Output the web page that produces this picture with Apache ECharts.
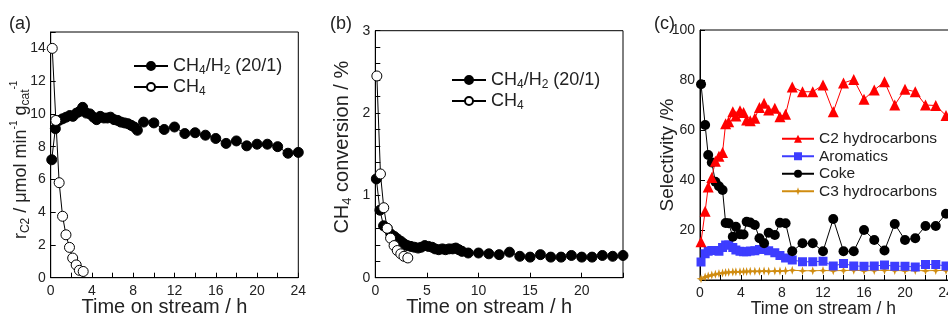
<!DOCTYPE html>
<html>
<head>
<meta charset="UTF-8">
<title>time on stream</title>
<script src="https://cdn.jsdelivr.net/npm/echarts@6/dist/echarts.min.js"></script>
<style>
    html, body { margin: 0; padding: 0; background: #fff; }
    #main { width: 948px; height: 317px; }
</style>
</head>
<body>
<div id="main"></div>
<script>
    // (a) + (b): CH4/H2 (20/1) run
    var tH2 = [0.1, 0.45, 0.8, 1.15, 1.5, 1.85, 2.15, 2.5, 2.8, 3.1, 3.45, 3.8, 4.15, 4.45, 4.8, 5.15, 5.5, 5.8, 6.15, 6.5, 6.8, 7.15, 7.5, 7.8, 8.1, 8.4,
        9, 10, 11, 12, 13, 14, 15, 16, 17, 18, 19, 20, 21, 22, 23, 24];
    var rateH2 = [7.2, 9.1, 9.6, 9.7, 9.8, 9.9, 9.85, 10.05, 10.15, 10.4, 10.05, 10.0, 9.8, 9.65, 9.85, 9.75, 9.75, 9.8, 9.65, 9.6, 9.5, 9.45, 9.4, 9.3, 9.2, 9.0,
        9.5, 9.45, 9.05, 9.2, 8.8, 8.85, 8.7, 8.5, 8.2, 8.35, 8.05, 8.15, 8.15, 8.0, 7.6, 7.65];
    var convH2 = [1.2, 0.82, 0.63, 0.6, 0.53, 0.5, 0.47, 0.44, 0.41, 0.39, 0.38, 0.37, 0.36, 0.37, 0.39, 0.38, 0.37, 0.35, 0.34, 0.35, 0.34, 0.35, 0.35, 0.36, 0.34, 0.32,
        0.3, 0.3, 0.29, 0.28, 0.31, 0.26, 0.25, 0.28, 0.25, 0.25, 0.27, 0.25, 0.25, 0.27, 0.26, 0.27];
    // pure CH4 run
    var tCH4 = [0.15, 0.5, 0.82, 1.15, 1.48, 1.82, 2.13, 2.47, 2.78, 3.15];
    var rateCH4 = [14.0, 9.6, 5.8, 3.75, 2.62, 1.85, 1.2, 0.78, 0.45, 0.38];
    var convCH4 = [2.45, 1.26, 0.85, 0.6, 0.48, 0.39, 0.33, 0.29, 0.26, 0.24];

    // (c) selectivity
    var tSel = [0.1, 0.5, 0.8, 1.15, 1.5, 1.85, 2.2, 2.5, 2.8, 3.2, 3.5, 3.9, 4.25, 4.55, 4.9, 5.35, 5.8, 6.25, 6.7, 7.3, 7.8, 8.35,
        9, 10, 11, 12, 13, 14, 15, 16, 17, 18, 19, 20, 21, 22, 23, 24];
    var selC2 = [15.3, 27.5, 37.2, 41, 47.5, 49.5, 51, 62.5, 63.3, 67.3, 65.6, 67.7, 67, 64, 63.7, 64.7, 69, 70.7, 68, 68.7, 65.3, 66.3,
        77.2, 75.3, 75.3, 78, 67.3, 78.8, 80.2, 72.3, 76, 79.3, 70, 76.3, 75.3, 70, 69.8, 65.8];
    var selArom = [7.2, 10.5, 11.5, 11.8, 11.8, 11.5, 13, 14, 14, 13, 12, 11.5, 11.3, 11.3, 11.6, 11.7, 12.2, 12.2, 11.7, 10.9, 9.8, 8.8,
        8, 7.3, 7.3, 7.5, 5.6, 6.6, 5.6, 5.5, 5.6, 6, 5.5, 5.5, 5.2, 6.2, 6.2, 5.6];
    var selCoke = [78.3, 62, 50, 47, 39.3, 37.5, 36, 22.8, 22.7, 17.3, 21.3, 18.3, 18.2, 23.3, 23, 22, 16.7, 14.7, 18.9, 18, 22.9, 22.7,
        11.5, 14.7, 14.7, 11.5, 24.4, 11.5, 11.5, 20, 16, 11.8, 22.4, 16, 16.7, 21.6, 21.6, 26.5];
    var selC3 = [0.5, 1.2, 1.6, 2.0, 2.3, 2.6, 2.8, 3.0, 3.1, 3.2, 3.3, 3.3, 3.4, 3.4, 3.5, 3.5, 3.5, 3.6, 3.5, 3.6, 3.6, 3.7,
        3.9, 3.7, 3.7, 3.8, 3.7, 3.8, 3.9, 3.7, 3.8, 3.9, 3.8, 3.7, 3.8, 3.7, 3.8, 3.8];

    function pts(xs, ys) {
        return xs.map(function (x, i) { return [x, ys[i]]; });
    }

    var FONT = 'Liberation Sans, Arial, sans-serif';
    var TXT = '#222';

    // legend names -> rich text
    var legendText = {
        aH2: '{n|CH}{s|4}{n|/H}{s|2}{n| (20/1)}',
        aCH4: '{n|CH}{s|4}',
        bH2: '{n|CH}{s|4}{n|/H}{s|2}{n| (20/1)}',
        bCH4: '{n|CH}{s|4}',
        c2: 'C2 hydrocarbons',
        arom: 'Aromatics',
        coke: 'Coke',
        c3: 'C3 hydrocarbons'
    };
    var richBig = {
        n: {fontSize: 18, lineHeight: 22, fontFamily: FONT, color: TXT},
        s: {fontSize: 12, verticalAlign: 'bottom', fontFamily: FONT, color: TXT}
    };

    function xAxisOf(idx, max, interval, minor, nameSize) {
        return {
            type: 'value', gridIndex: idx, min: 0, max: max, interval: interval,
            name: 'Time on stream / h', nameLocation: 'middle', nameGap: 20, nameMoveOverlap: false,
            nameTextStyle: {fontSize: nameSize, fontFamily: FONT, color: TXT, padding: [0, 20, 0, 0]},
            axisLine: {lineStyle: {color: '#000', width: 1}},
            axisTick: {inside: true, length: 5, lineStyle: {color: '#000'}},
            minorTick: {show: minor > 0, splitNumber: minor || 1, length: 5, lineStyle: {color: '#000'}},
            axisLabel: {
                fontSize: 14, fontFamily: FONT, color: TXT, margin: 6,
                formatter: function (v) { return v % interval === 0 ? String(v) : ''; }
            },
            splitLine: {show: false}
        };
    }

    function yAxisBase(idx, min, max, interval) {
        return {
            type: 'value', gridIndex: idx, min: min, max: max, interval: interval,
            nameLocation: 'middle', nameMoveOverlap: false,
            axisLine: {show: true, lineStyle: {color: '#000', width: 1}},
            axisTick: {inside: true, length: 5, lineStyle: {color: '#000'}},
            axisLabel: {fontSize: 14, fontFamily: FONT, color: TXT, margin: 5},
            splitLine: {show: false}
        };
    }

    var yA = yAxisBase(0, 0, 15, 2);
    yA.axisLabel.formatter = function (v) { return v % 2 === 0 ? String(v) : ''; };
    yA.name = '{n|r}{s|C2}{n| / μmol min}{p|-1}{n| g}{s|cat}{p|-1}';
    yA.nameGap = 19;
    yA.nameTextStyle = {
        padding: [0, 10, 0, 0],
        rich: {
            n: {fontSize: 18, lineHeight: 22, fontFamily: FONT, color: TXT},
            s: {fontSize: 12, verticalAlign: 'bottom', fontFamily: FONT, color: TXT},
            p: {fontSize: 10, verticalAlign: 'top', fontFamily: FONT, color: TXT}
        }
    };

    var yB = yAxisBase(1, 0, 3, 1);
    yB.minorTick = {show: true, splitNumber: 5, length: 5, lineStyle: {color: '#000'}};
    yB.name = '{n|CH}{s|4}{n| conversion / %}';
    yB.nameGap = 21;
    yB.nameTextStyle = {
        padding: [0, 0, 0, 14],
        rich: {
            n: {fontSize: 20, lineHeight: 24, fontFamily: FONT, color: TXT},
            s: {fontSize: 13, verticalAlign: 'bottom', fontFamily: FONT, color: TXT}
        }
    };

    var yC = yAxisBase(2, 0, 100, 20);
    yC.axisLabel.formatter = function (v) { return v === 0 ? '' : String(v); };
    yC.name = 'Selectivity /%';
    yC.nameGap = 23;
    yC.nameTextStyle = {fontSize: 19, fontFamily: FONT, color: TXT};

    function filled(name, x, y, xi, yi) {
        return {
            name: name, type: 'line', xAxisIndex: xi, yAxisIndex: yi, data: pts(x, y),
            symbol: 'circle', symbolSize: 10, showAllSymbol: true,
            itemStyle: {color: '#000', borderColor: '#000', borderWidth: 1},
            lineStyle: {color: '#000', width: 1}, animation: false
        };
    }

    function open(name, x, y, xi, yi) {
        return {
            name: name, type: 'line', xAxisIndex: xi, yAxisIndex: yi, data: pts(x, y),
            symbol: 'circle', symbolSize: 10, showAllSymbol: true,
            itemStyle: {color: '#fff', borderColor: '#000', borderWidth: 1},
            lineStyle: {color: '#000', width: 1}, animation: false
        };
    }

    function sel(name, y, color, symbol, size) {
        return {
            name: name, type: 'line', xAxisIndex: 2, yAxisIndex: 2, data: pts(tSel, y),
            symbol: symbol, symbolSize: size, showAllSymbol: true,
            itemStyle: {color: color},
            lineStyle: {color: color, width: 1}, animation: false
        };
    }

    var star = 'path://M0,-10 L2.5,-2.5 L10,0 L2.5,2.5 L0,10 L-2.5,2.5 L-10,0 L-2.5,-2.5 Z';

    var chart = echarts.init(document.getElementById('main'), null, {renderer: 'canvas'});
    var option = {
        backgroundColor: '#fff',
        animation: false,
        title: [
            {text: '(a)', left: 4, top: 10, textStyle: {fontSize: 18, fontWeight: 'normal', fontFamily: FONT, color: TXT}},
            {text: '(b)', left: 325, top: 10, textStyle: {fontSize: 18, fontWeight: 'normal', fontFamily: FONT, color: TXT}},
            {text: '(c)', left: 649, top: 10, textStyle: {fontSize: 18, fontWeight: 'normal', fontFamily: FONT, color: TXT}}
        ],
        grid: [
            {left: 50.7, width: 247.6, top: 32, height: 245.7, show: true, borderColor: '#000', borderWidth: 1, backgroundColor: 'transparent', outerBoundsMode: 'none'},
            {left: 375.3, width: 247.7, top: 30.7, height: 247, show: true, borderColor: '#000', borderWidth: 1, backgroundColor: 'transparent', outerBoundsMode: 'none'},
            {left: 700, width: 266.5, top: 30, height: 250, show: true, borderColor: '#000', borderWidth: 1, backgroundColor: 'transparent', outerBoundsMode: 'none'}
        ],
        xAxis: [
            xAxisOf(0, 24, 4, 2, 20),
            xAxisOf(1, 24, 5, 0, 20),
            xAxisOf(2, 26, 4, 2, 17.5)
        ],
        yAxis: [yA, yB, yC],
        legend: [
            {
                data: ['aH2', 'aCH4'], orient: 'vertical', left: 128, top: 52,
                itemWidth: 34, itemHeight: 10, itemGap: 1,
                formatter: function (n) { return legendText[n]; },
                textStyle: {rich: richBig}
            },
            {
                data: ['bH2', 'bCH4'], orient: 'vertical', left: 446, top: 66,
                itemWidth: 34, itemHeight: 10, itemGap: 1,
                formatter: function (n) { return legendText[n]; },
                textStyle: {rich: richBig}
            },
            {
                data: ['c2', 'arom', 'coke', 'c3'], orient: 'vertical', left: 776, top: 125,
                itemWidth: 32, itemHeight: 10, itemGap: 0,
                formatter: function (n) { return legendText[n]; },
                textStyle: {fontSize: 15.5, fontFamily: FONT, color: TXT, lineHeight: 17.5}
            }
        ],
        series: [
            filled('aH2', tH2, rateH2, 0, 0),
            open('aCH4', tCH4, rateCH4, 0, 0),
            filled('bH2', tH2, convH2, 1, 1),
            open('bCH4', tCH4, convCH4, 1, 1),
            sel('c3', selC3, '#D08C10', star, 9),
            sel('arom', selArom, '#3D3DFF', 'rect', 9),
            sel('coke', selCoke, '#000', 'circle', 10),
            sel('c2', selC2, '#FF0000', 'triangle', 11)
        ]
    };
    chart.setOption(option);
</script>
</body>
</html>
